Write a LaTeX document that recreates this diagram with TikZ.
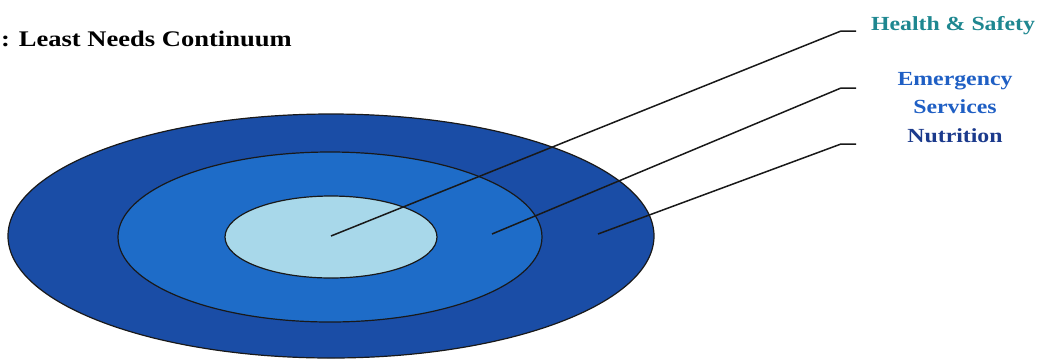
\documentclass[tikz,border=0pt]{standalone}
\usepackage{fontspec}
\setmainfont{Liberation Serif}[FakeStretch=1.19]
\usetikzlibrary{shapes.geometric}
\definecolor{ringout}{HTML}{1A4DA6}
\definecolor{ringmid}{HTML}{1E6CC8}
\definecolor{ringin}{HTML}{A8D8EA}
\definecolor{hstext}{HTML}{1E8790}
\definecolor{estext}{HTML}{1F5FC4}
\definecolor{nutext}{HTML}{1B3A8C}
\tikzset{
  ring/.style={ellipse,draw=black!90,line width=1.2pt,inner sep=0pt},
  leader/.style={line width=1.5pt,black!90},
  lbl/.style={font=\fontsize{20}{28}\selectfont\bfseries,inner sep=0pt,align=center}
}
\begin{document}
\begin{tikzpicture}[x=1pt,y=-1pt]
  \useasboundingbox (0,0) rectangle (1039,360);

  % Titre
  \node[lbl,font=\fontsize{22.3}{28}\selectfont\bfseries,anchor=base west] (title) at (1,46) {: Least Needs Continuum};

  % Anneaux
  \node[ring,fill=ringout,minimum width=646pt,minimum height=244pt] (outer) at (331,236) {};
  \node[ring,fill=ringmid,minimum width=424pt,minimum height=170pt] (middle) at (330,237) {};
  \node[ring,fill=ringin,minimum width=212pt,minimum height=82pt] (inner) at (331,237) {};

  % Etiquettes
  \node[lbl,hstext,anchor=base] (hs) at (953,30) {Health \& Safety};
  \node[lbl,estext,anchor=base] (es) at (955,113) {Emergency\\Services};
  \node[lbl,nutext,anchor=base] (nu) at (955,142) {Nutrition};

  % Lignes de rappel
  \coordinate (hsstart) at (331,236);
  \coordinate (esstart) at (492,234);
  \coordinate (nustart) at (598,234);
  \coordinate (hskink) at (841,31);
  \coordinate (eskink) at (841,88);
  \coordinate (nukink) at (841,144);
  \coordinate (hsend) at (856,31);
  \coordinate (esend) at (856,88);
  \coordinate (nuend) at (856,144);
  \draw[leader] (hsstart) -- (hskink) -- (hsend);
  \draw[leader] (esstart) -- (eskink) -- (esend);
  \draw[leader] (nustart) -- (nukink) -- (nuend);
\end{tikzpicture}
\end{document}
